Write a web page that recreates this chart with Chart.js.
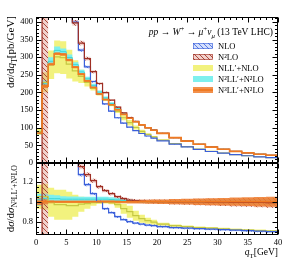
<!DOCTYPE html>
<html><head><meta charset="utf-8">
<script src="https://cdn.jsdelivr.net/npm/chart.js@4.4.1/dist/chart.umd.min.js"></script>
<style>
html,body{margin:0;padding:0;background:#fff;}
#wrap{position:relative;width:288px;height:260px;}
canvas{position:absolute;left:0;top:0;}
</style></head><body>
<div id="wrap"><canvas id="topc" width="288" height="260"></canvas><canvas id="botc" width="288" height="260"></canvas></div>
<script>
// ---- data ----
const binEdges = [0,1,2,3,4,5,6,7,8,9,10,11,12,13,14,15,16,17,18,19,20,22,24,26,28,30,32,34,36,38,40];
const xTickValues = [0,5,10,15,20,25,30,35,40];
const yTickValuesTop = [0,50,100,150,200,250,300,350,400];
const yTickValuesRatio = [0.8,1,1.2];
const seriesLabels = ['NLO','N²LO','NLL′+NLO','N²LL′+N²LO','N³LL′+N²LO'];

// N3LL'+N2LO central value per bin [pb/GeV]
const n3llCentral = [85,218,280,310,308,292,272,252,233,214,196,180,165,151,138,127,117,108,100,93,84,72,62,53,45,39,33,29,25,22];
const errN3LL = [0.035,0.025,0.015,0.013,0.012,0.012,0.012,0.012,0.013,0.013,0.014,0.014,0.015,0.015,0.016,0.017,0.018,0.019,0.02,0.021,0.023,0.026,0.029,0.032,0.035,0.038,0.041,0.044,0.047,0.05];
// ratios to N3LL'+N2LO (bottom panel), with relative band half-widths
const ratioN2LL = [1.02,1.03,1.03,1.03,1.025,1.025,1.025,1.025,1.025,1.025,1.025,1.025,1.022,1.018,1.012,1.006,1.003,1.0,1.0,1.0,1.0,1.0,1.0,1.0,1.0,1.0,1.0,1.0,1.0,1.0];
const errN2LL = [0.06,0.05,0.04,0.035,0.03,0.028,0.026,0.025,0.025,0.025,0.025,0.024,0.022,0.02,0.018,0.015,0.013,0.012,0.012,0.012,0.013,0.015,0.017,0.019,0.021,0.023,0.025,0.027,0.029,0.03];
const ratioNLL = [1.05,1.05,0.995,0.97,0.97,0.96,0.96,0.975,0.98,0.99,0.995,0.995,0.99,0.97,0.93,0.9,0.86,0.83,0.81,0.795,0.775,0.76,0.75,0.742,0.735,0.728,0.722,0.716,0.71,0.705];
const errNLL = [0.12,0.13,0.145,0.15,0.15,0.14,0.11,0.075,0.05,0.03,0.018,0.012,0.015,0.03,0.05,0.06,0.05,0.04,0.03,0.025,0.015,0.012,0.011,0.011,0.011,0.011,0.011,0.011,0.011,0.011];
const ratioNLO = [12,12,12,12,12,12,1.47,1.27,1.17,1.08,1.0,0.93,0.89,0.85,0.82,0.8,0.785,0.775,0.765,0.76,0.75,0.74,0.735,0.73,0.725,0.72,0.715,0.71,0.705,0.7];
const errNLO = [0.02,0.02,0.02,0.02,0.02,0.02,0.02,0.018,0.016,0.015,0.014,0.013,0.012,0.012,0.012,0.012,0.011,0.011,0.011,0.011,0.011,0.011,0.011,0.011,0.011,0.011,0.011,0.011,0.011,0.011];
const ratioN2LO = [-20,20,3,3,3,3,1.46,1.35,1.27,1.21,1.15,1.11,1.08,1.05,1.03,1.015,1.008,1.004,1.002,1.0,1.0,0.999,0.998,0.997,0.996,0.995,0.994,0.993,0.992,0.99];
const errN2LO = [0,60,0.05,0.05,0.05,0.05,0.03,0.025,0.022,0.02,0.018,0.016,0.015,0.015,0.016,0.017,0.018,0.019,0.02,0.021,0.023,0.026,0.029,0.032,0.035,0.038,0.041,0.044,0.047,0.05];
const ratioN3LL = n3llCentral.map(() => 1);

const FAM = "'Liberation Serif','DejaVu Serif',serif";

function hatch(line, bg){
  const c = document.createElement('canvas'); c.width = 5; c.height = 5;
  const g = c.getContext('2d'); g.fillStyle = bg; g.fillRect(0,0,5,5);
  g.strokeStyle = line; g.lineWidth = 0.9;
  g.beginPath(); g.moveTo(-1,-1); g.lineTo(6,6); g.moveTo(-1,4); g.lineTo(1,6); g.moveTo(4,-1); g.lineTo(6,1); g.stroke();
  return g.createPattern(c, 'repeat');
}
const COL = {
  nlo: '#3b5fd9', nloFill: hatch('#4a6ee0','rgba(160,185,250,0.45)'),
  n2lo: '#9e2f24', n2loFill: hatch('#a33a2c','rgba(225,150,140,0.45)'),
  nllLine: '#c5c842', nllFill: '#f2f27e',
  n2llLine: '#40d6d6', n2llFill: '#7ef0ee',
  n3llLine: '#f07a22', n3llFill: 'rgba(240,125,45,0.85)'
};

// value of bin i spans [binEdges[i], binEdges[i+1]]
function steps(vals){ return binEdges.map((e,i) => ({x: e, y: vals[Math.min(i, vals.length-1)]})); }

function buildDatasets(isTop){
  const T = arr => isTop ? arr.map((v,i) => v * n3llCentral[i]) : arr;
  const lo = (r,e) => T(r.map((v,i) => v - e[i]));
  const hi = (r,e) => T(r.map((v,i) => v + e[i]));
  const base = {stepped:'before', pointRadius:0, fill:false, clip:0};
  const bandLo = (r,e,order) => Object.assign({}, base, {data: steps(lo(r,e)), borderColor:'transparent', borderWidth:0, order});
  const bandHi = (r,e,fillCol,order) => Object.assign({}, base, {data: steps(hi(r,e)), borderColor:'transparent', borderWidth:0, fill:'-1', backgroundColor: fillCol, order});
  const line = (r,col,w,order,label) => Object.assign({}, base, {label, data: steps(T(r)), borderColor: col, borderWidth: w, order});
  return [
    bandLo(ratioNLL, errNLL, 10), bandHi(ratioNLL, errNLL, COL.nllFill, 10),
    bandLo(ratioN2LL, errN2LL, 9), bandHi(ratioN2LL, errN2LL, COL.n2llFill, 9),
    bandLo(ratioNLO, errNLO, 8), bandHi(ratioNLO, errNLO, COL.nloFill, 8),
    bandLo(ratioN2LO, errN2LO, 7), bandHi(ratioN2LO, errN2LO, COL.n2loFill, 7),
    bandLo(ratioN3LL, errN3LL, 6), bandHi(ratioN3LL, errN3LL, COL.n3llFill, 6),
    line(ratioN2LL, COL.n2llLine, 1, 5, seriesLabels[3]),
    line(ratioNLL, COL.nllLine, 1.2, 4, seriesLabels[2]),
    line(ratioNLO, COL.nlo, 1.2, 3, seriesLabels[0]),
    line(ratioN2LO, COL.n2lo, 1.2, 2, seriesLabels[1]),
    line(ratioN3LL, COL.n3llLine, 1.6, 1, seriesLabels[4])
  ];
}

function drawParts(ctx, parts, x, y, align, size){
  const fontFor = p => `${p.i ? 'italic ' : ''}${(p.sub || p.sup) ? (size*0.72).toFixed(1) : size}px ${FAM}`;
  let w = 0;
  parts.forEach(p => { ctx.font = fontFor(p); w += ctx.measureText(p.t).width; });
  let cx = align === 'right' ? x - w : (align === 'center' ? x - w/2 : x);
  ctx.textAlign = 'left'; ctx.textBaseline = 'alphabetic';
  parts.forEach(p => {
    ctx.font = fontFor(p);
    const dy = p.sub ? size*0.3 : (p.sup ? -size*0.4 : 0);
    ctx.fillText(p.t, cx, y + dy);
    cx += ctx.measureText(p.t).width;
  });
}

function framePlugin(minorY, majorStep, majorLen, minorLen){
  return {
    id: 'frameTicks',
    afterDraw(chart){
      const {ctx, chartArea: a, scales: {x, y}} = chart;
      ctx.save();
      ctx.strokeStyle = '#000'; ctx.lineWidth = 1;
      const L = Math.round(a.left) + 0.5, R = Math.round(a.right) - 0.5, Tp = Math.round(a.top) + 0.5, B = Math.round(a.bottom) - 0.5;
      ctx.strokeRect(L, Tp, R - L, B - Tp);
      ctx.beginPath();
      for (let k = 0; k <= 40; k++){
        const px = Math.round(x.getPixelForValue(k)) + 0.5;
        const len = k % 5 === 0 ? majorLen : minorLen;
        ctx.moveTo(px, Tp); ctx.lineTo(px, Tp + len);
        ctx.moveTo(px, B); ctx.lineTo(px, B - len);
      }
      const n0 = Math.ceil(y.min / minorY - 1e-6), n1 = Math.floor(y.max / minorY + 1e-6);
      const ratioMajor = Math.round(majorStep / minorY);
      for (let k = n0; k <= n1; k++){
        const v = k * minorY;
        const major = k % ratioMajor === 0;
        const py = Math.round(y.getPixelForValue(v)) + 0.5;
        const len = major ? majorLen : minorLen;
        ctx.moveTo(L, py); ctx.lineTo(L + len, py);
        ctx.moveTo(R, py); ctx.lineTo(R - len, py);
      }
      ctx.stroke();
      ctx.restore();
    }
  };
}

const textTop = {
  id: 'textTop',
  afterDraw(chart){
    const ctx = chart.ctx;
    ctx.save(); ctx.fillStyle = '#000';
    drawParts(ctx, [{t:'pp',i:1},{t:' → '},{t:'W',i:1},{t:'+',sup:1},{t:' → '},{t:'μ',i:1},{t:'+',sup:1},{t:'ν',i:1},{t:'μ',i:1,sub:1},{t:' (13 TeV LHC)'}], 273, 35, 'right', 9.5);
    const fills = [COL.nloFill, COL.n2loFill, COL.nllFill, COL.n2llFill, COL.n3llFill];
    const edge = [COL.nlo, COL.n2lo, null, null, null];
    seriesLabels.forEach((lab, i) => {
      const cy = 46 + i * 11;
      ctx.fillStyle = fills[i];
      ctx.fillRect(193, cy - 3, 20, 6);
      if (i === 4){ ctx.fillStyle = COL.n3llLine; ctx.fillRect(193, cy - 1, 20, 2); }
      if (edge[i]){ ctx.strokeStyle = edge[i]; ctx.lineWidth = 0.6; ctx.strokeRect(193.5, cy - 2.5, 19, 5); }
      ctx.fillStyle = '#000';
      ctx.font = `8.5px ${FAM}`; ctx.textAlign = 'left'; ctx.textBaseline = 'middle';
      ctx.fillText(lab, 218, cy + 0.5);
    });
    ctx.translate(14, 16); ctx.rotate(-Math.PI/2);
    drawParts(ctx, [{t:'d'},{t:'σ',i:1},{t:'/d'},{t:'q',i:1},{t:'T',sub:1},{t:'[pb/GeV]'}], 0, 0, 'right', 11);
    ctx.restore();
  }
};
const textBot = {
  id: 'textBot',
  afterDraw(chart){
    const ctx = chart.ctx;
    ctx.save(); ctx.fillStyle = '#000';
    drawParts(ctx, [{t:'q',i:1},{t:'T',sub:1},{t:'[GeV]'}], 278, 255, 'right', 9.5);
    ctx.translate(14, 165); ctx.rotate(-Math.PI/2);
    drawParts(ctx, [{t:'d'},{t:'σ',i:1},{t:'/d'},{t:'σ',i:1},{t:'N³LL′+N²LO',sub:1}], 0, 0, 'right', 11);
    ctx.restore();
  }
};

function makeChart(id, isTop){
  const tickFont = {family: FAM, size: 8.5};
  return new Chart(document.getElementById(id).getContext('2d'), {
    type: 'line',
    data: {datasets: buildDatasets(isTop)},
    options: {
      responsive: false, animation: false, devicePixelRatio: 1, events: [],
      layout: {padding: {left: 0, right: 10, top: isTop ? 17 : 163, bottom: isTop ? 97 : 0}},
      plugins: {legend: {display: false}, tooltip: {enabled: false}},
      scales: {
        x: {type: 'linear', min: 0, max: 40, display: !isTop,
            grid: {display: false, drawTicks: false}, border: {display: false},
            ticks: {font: tickFont, color: '#000', padding: 3, maxRotation: 0, autoSkip: false},
            afterBuildTicks: s => { s.ticks = xTickValues.map(v => ({value: v})); },
            afterFit: s => { if (!isTop) s.height = 25; }},
        y: {type: 'linear', min: isTop ? 0 : 0.667, max: isTop ? 414 : 1.387,
            grid: {display: false, drawTicks: false}, border: {display: false},
            ticks: {font: tickFont, color: '#000', padding: 3, autoSkip: false, callback: v => String(v)},
            afterBuildTicks: s => { s.ticks = (isTop ? yTickValuesTop : yTickValuesRatio).map(v => ({value: v})); },
            afterFit: s => { s.width = 36; }}
      }
    },
    plugins: [framePlugin(isTop ? 10 : 0.05, isTop ? 50 : 0.2, 5, 2.5), isTop ? textTop : textBot]
  });
}
makeChart('topc', true);
makeChart('botc', false);
</script>
</body></html>
